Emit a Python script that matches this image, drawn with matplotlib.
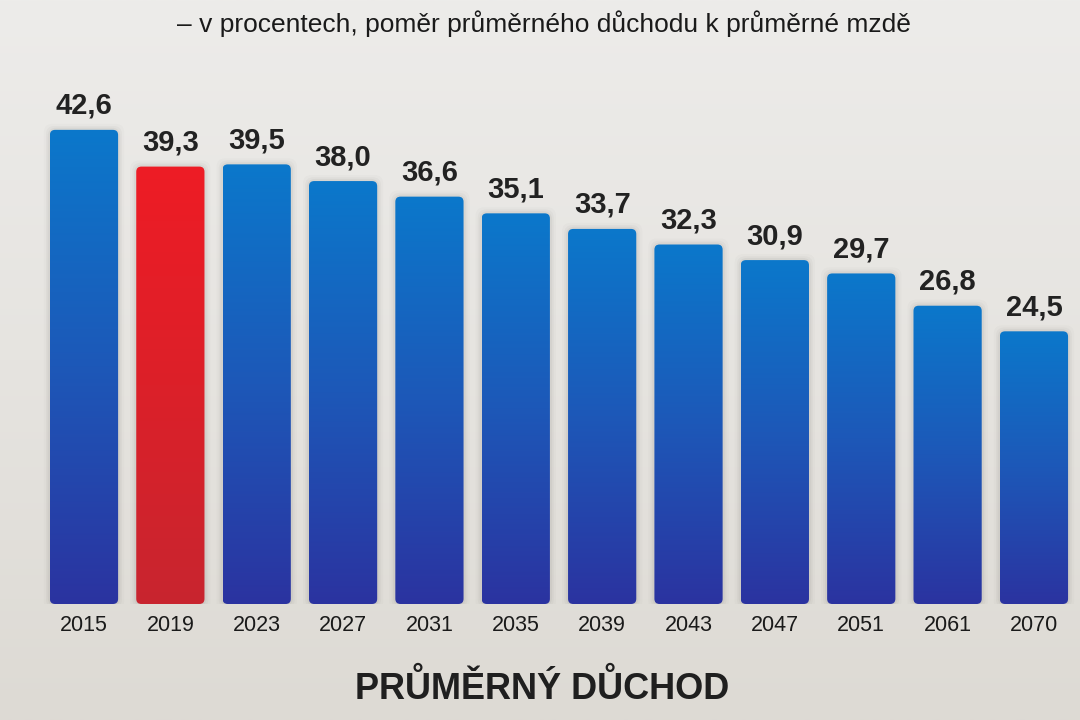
import matplotlib
matplotlib.use('Agg')
import matplotlib.pyplot as plt
import numpy as np
from matplotlib.patches import FancyBboxPatch
from matplotlib.colors import LinearSegmentedColormap

plt.rcParams['font.family'] = ['Liberation Sans', 'DejaVu Sans']

# data
years = ['2015', '2019', '2023', '2027', '2031', '2035',
         '2039', '2043', '2047', '2051', '2061', '2070']
values = [42.6, 39.3, 39.5, 38.0, 36.6, 35.1,
          33.7, 32.3, 30.9, 29.7, 26.8, 24.5]
highlight = '2019'

subtitle = '– v procentech, poměr průměrného důchodu k průměrné mzdě'
title = 'PRŮMĚRNÝ DŮCHOD'

blue_cmap = LinearSegmentedColormap.from_list('b', ['#2b33a0', '#1d58b8', '#0b78cb'])
red_cmap = LinearSegmentedColormap.from_list('r', ['#c8252f', '#dc2029', '#ee1c25'])

W, H = 1080, 720
fig = plt.figure(figsize=(W / 100, H / 100), dpi=100)

# background: light grey, slightly lighter near the top
bg = fig.add_axes([0, 0, 1, 1], zorder=0)
grad = np.linspace(0, 1, 256).reshape(-1, 1)
bg_cmap = LinearSegmentedColormap.from_list('bg', ['#dddad4', '#e6e4e0', '#edecea'])
bg.imshow(grad, aspect='auto', cmap=bg_cmap, origin='lower', extent=[0, 1, 0, 1])
bg.set_axis_off()

# plot area so that bars land where they do in the picture
n = len(years)
step = 86.36          # px per category
px_per_unit = 11.13   # px per percent
left_px = 84 - step / 2
bottom_px = H - 604
ymax = 45
ax = fig.add_axes([left_px / W, bottom_px / H, n * step / W, ymax * px_per_unit / H], zorder=1)
ax.patch.set_alpha(0)
for s in ax.spines.values():
    s.set_visible(False)
ax.set_yticks([])
ax.set_xticks(range(n))
ax.set_xticklabels(years, fontsize=15.5, color='#1a1a1a')
ax.tick_params(axis='x', length=0, pad=8)

bar_w = 0.79
aspect = step / px_per_unit
for i, (yr, v) in enumerate(zip(years, values)):
    cmap = red_cmap if yr == highlight else blue_cmap
    # soft shadow around the bar
    for k, a in ((0.07, 0.025), (0.045, 0.035), (0.025, 0.05)):
        ax.add_patch(FancyBboxPatch((i - bar_w / 2 - k, -k * aspect), bar_w + 2 * k, v + 2 * k * aspect,
                                    boxstyle='round,pad=0,rounding_size=0.1',
                                    mutation_aspect=aspect, facecolor='#4a453d',
                                    edgecolor='none', alpha=a, zorder=1))
    patch = FancyBboxPatch((i - bar_w / 2, 0), bar_w, v,
                           boxstyle='round,pad=0,rounding_size=0.06',
                           mutation_aspect=aspect,
                           facecolor='none', edgecolor='none')
    ax.add_patch(patch)
    im = ax.imshow(np.linspace(0, 1, 256).reshape(-1, 1), cmap=cmap,
                   origin='lower', aspect='auto',
                   extent=[i - bar_w / 2, i + bar_w / 2, 0, v], zorder=2)
    im.set_clip_path(patch)
    ax.text(i, v + 0.9, f'{v:.1f}'.replace('.', ','), ha='center', va='bottom',
            fontsize=21, fontweight='bold', color='#222222', zorder=3)

ax.set_xlim(-0.5, n - 0.5)
ax.set_ylim(0, ymax)

fig.text(544 / W, 1 - 24 / H, subtitle, ha='center', va='center',
         fontsize=19, color='#1a1a1a')
fig.text(542 / W, 1 - 689 / H, title, ha='center', va='center',
         fontsize=26, fontweight='bold', color='#1f1f1f')

fig.savefig('out.png', dpi=100)
